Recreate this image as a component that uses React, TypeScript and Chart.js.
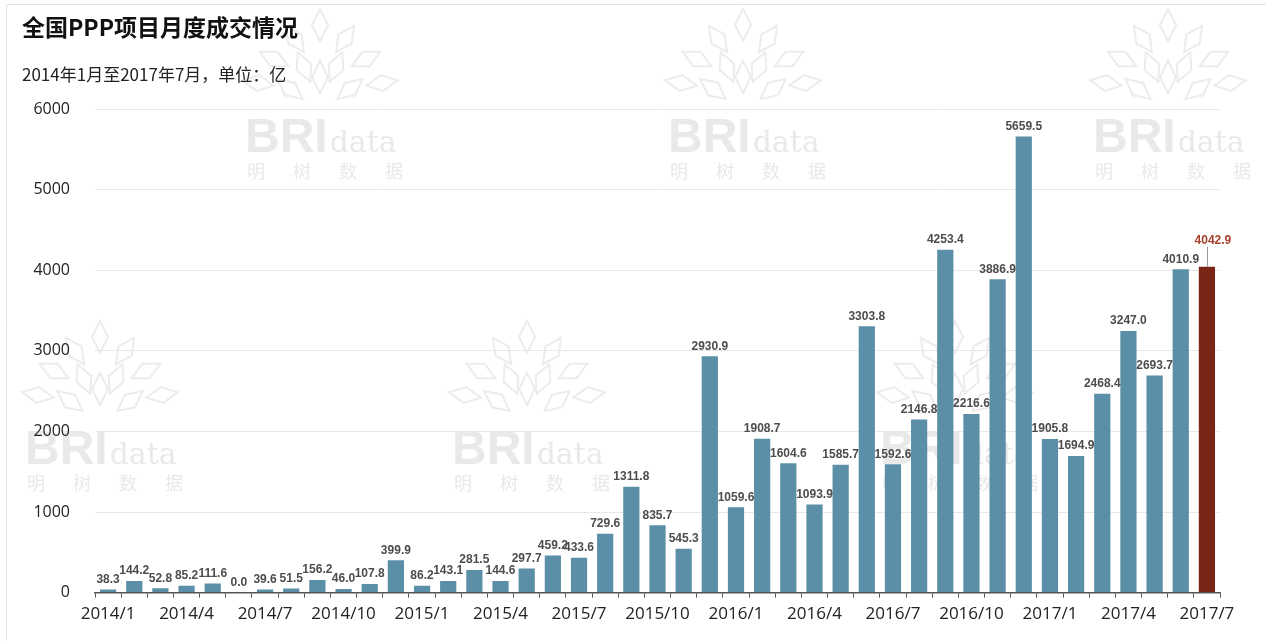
import React, { useEffect, useRef } from "react";
import { Chart, registerables } from "chart.js";

Chart.register(...registerables);

const months = [
  "2014/1", "2014/2", "2014/3", "2014/4", "2014/5", "2014/6", "2014/7", "2014/8", "2014/9", "2014/10", "2014/11", "2014/12",
  "2015/1", "2015/2", "2015/3", "2015/4", "2015/5", "2015/6", "2015/7", "2015/8", "2015/9", "2015/10", "2015/11", "2015/12",
  "2016/1", "2016/2", "2016/3", "2016/4", "2016/5", "2016/6", "2016/7", "2016/8", "2016/9", "2016/10", "2016/11", "2016/12",
  "2017/1", "2017/2", "2017/3", "2017/4", "2017/5", "2017/6", "2017/7",
];

const values = [
  38.3, 144.2, 52.8, 85.2, 111.6, 0.0, 39.6, 51.5, 156.2, 46.0, 107.8, 399.9,
  86.2, 143.1, 281.5, 144.6, 297.7, 459.2, 433.6, 729.6, 1311.8, 835.7, 545.3, 2930.9,
  1059.6, 1908.7, 1604.6, 1093.9, 1585.7, 3303.8, 1592.6, 2146.8, 4253.4, 2216.6, 3886.9, 5659.5,
  1905.8, 1694.9, 2468.4, 3247.0, 2693.7, 4010.9, 4042.9,
];

const shownTicks = [
  "2014/1", "2014/4", "2014/7", "2014/10", "2015/1", "2015/4", "2015/7", "2015/10",
  "2016/1", "2016/4", "2016/7", "2016/10", "2017/1", "2017/4", "2017/7",
];

const yTicks = [0, 1000, 2000, 3000, 4000, 5000, 6000];

const titleText = "全国PPP项目月度成交情况";
const subtitleText = "2014年1月至2017年7月，单位：亿";

const BLUE = "#5b8fa8";
const RED = "#7a2616";
const LABEL_GRAY = "#4d4d4d";
const LABEL_RED = "#a5432d";

const watermarkSpots = [
  [245, 152],
  [668, 152],
  [1093, 152],
  [25, 464],
  [452, 464],
  [880, 464],
];

const watermarkPlugin = {
  id: "watermark",
  beforeDraw(chart: any) {
    const ctx = chart.ctx;
    ctx.save();
    ctx.fillStyle = "#ffffff";
    ctx.fillRect(0, 0, chart.width, chart.height);
    ctx.strokeStyle = "#e2e2e2";
    ctx.lineWidth = 1;
    ctx.beginPath();
    ctx.moveTo(6.5, chart.height);
    ctx.lineTo(6.5, 4.5);
    ctx.lineTo(chart.width, 4.5);
    ctx.stroke();
    for (const [x, y] of watermarkSpots) {
      ctx.strokeStyle = "#ececec";
      ctx.lineWidth = 2;
      const cx = x + 75;
      const cy = y - 85;
      const leaves = [
        [0, -42, 0], [-25, -28, -0.6], [25, -28, 0.6], [-46, -8, -1.1], [46, -8, 1.1],
        [-16, 0, -0.4], [16, 0, 0.4], [-62, 16, -1.4], [62, 16, 1.4], [0, 10, 0],
        [-30, 22, -0.9], [30, 22, 0.9],
      ];
      for (const [dx, dy, rot] of leaves) {
        ctx.save();
        ctx.translate(cx + dx, cy + dy);
        ctx.rotate(rot);
        ctx.beginPath();
        ctx.moveTo(0, -16);
        ctx.lineTo(8, 0);
        ctx.lineTo(0, 16);
        ctx.lineTo(-8, 0);
        ctx.closePath();
        ctx.stroke();
        ctx.restore();
      }
      ctx.fillStyle = "#e9e9e9";
      ctx.textBaseline = "alphabetic";
      ctx.textAlign = "left";
      ctx.font = "bold 48px 'Liberation Sans', Arial, sans-serif";
      ctx.fillText("BRI", x, y);
      const w = ctx.measureText("BRI").width;
      ctx.font = "30px 'DejaVu Serif', serif";
      ctx.fillText("data", x + w + 2, y);
      ctx.font = "18px 'Noto Sans CJK SC', sans-serif";
      ctx.fillText("明", x + 2, y + 26);
      ctx.fillText("树", x + 48, y + 26);
      ctx.fillText("数", x + 94, y + 26);
      ctx.fillText("据", x + 140, y + 26);
    }
    ctx.restore();
  },
};

const labelPlugin = {
  id: "barLabels",
  afterDatasetsDraw(chart: any) {
    const ctx = chart.ctx;
    const meta = chart.getDatasetMeta(0);
    const data = chart.data.datasets[0].data as number[];
    ctx.save();
    ctx.textAlign = "center";
    ctx.textBaseline = "bottom";
    meta.data.forEach((bar: any, i: number) => {
      const isLast = i === data.length - 1;
      const text = data[i].toFixed(1);
      ctx.font = "bold 12px 'Liberation Sans', Arial, sans-serif";
      if (isLast) {
        ctx.strokeStyle = "#999999";
        ctx.lineWidth = 1;
        ctx.beginPath();
        ctx.moveTo(Math.round(bar.x) + 0.5, bar.y);
        ctx.lineTo(Math.round(bar.x) + 0.5, bar.y - 20);
        ctx.stroke();
        ctx.fillStyle = LABEL_RED;
        ctx.fillText(text, bar.x + 6, bar.y - 20);
      } else {
        ctx.fillStyle = LABEL_GRAY;
        ctx.fillText(text, bar.x, bar.y - 4);
      }
    });
    ctx.restore();
  },
};

export default function App() {
  const canvasRef = useRef<HTMLCanvasElement | null>(null);

  useEffect(() => {
    if (!canvasRef.current) return;
    const chart = new Chart(canvasRef.current, {
      type: "bar",
      data: {
        labels: months,
        datasets: [
          {
            data: values,
            backgroundColor: values.map((_, i) => (i === values.length - 1 ? RED : BLUE)),
            barPercentage: 0.62,
            categoryPercentage: 1,
          },
        ],
      },
      options: {
        responsive: false,
        animation: false,
        layout: { padding: { left: 22, right: 46, top: 0, bottom: 11 } },
        plugins: {
          legend: { display: false },
          tooltip: { enabled: false },
          title: {
            display: true,
            text: titleText,
            align: "start",
            color: "#111111",
            font: { size: 23, weight: "bold", family: "'Noto Sans CJK SC', sans-serif", lineHeight: 1.2 },
            padding: { top: 13, bottom: 24 },
          },
          subtitle: {
            display: true,
            text: subtitleText,
            align: "start",
            color: "#222222",
            font: { size: 17, family: "'Noto Sans CJK SC', sans-serif", lineHeight: 1.2 },
            padding: { top: 0, bottom: 24 },
          },
        },
        scales: {
          x: {
            offset: true,
            grid: {
              offset: true,
              drawOnChartArea: false,
              drawTicks: true,
              tickLength: 5,
              color: "#555555",
            },
            border: { display: true, color: "#555555", width: 1.5 },
            ticks: {
              autoSkip: false,
              maxRotation: 0,
              minRotation: 0,
              padding: 6,
              color: "#222222",
              font: { size: 17, family: "'Open Sans', 'Noto Sans', sans-serif" },
              callback: (_v: any, i: number) => (shownTicks.includes(months[i]) ? months[i] : ""),
            },
          },
          y: {
            min: 0,
            max: 6000,
            afterFit: (scale: any) => {
              scale.width = 73;
            },
            afterBuildTicks: (scale: any) => {
              scale.ticks = yTicks.map((v) => ({ value: v }));
            },
            grid: { color: "#e8e8e8", drawTicks: false, lineWidth: 1 },
            border: { display: false },
            ticks: {
              padding: 25,
              color: "#222222",
              font: { size: 16, family: "'Open Sans', 'Noto Sans', sans-serif" },
              callback: (v: any) => String(v),
            },
          },
        },
      },
      plugins: [watermarkPlugin, labelPlugin],
    } as any);
    return () => chart.destroy();
  }, []);

  return (
    <div style={{ position: "fixed", left: 0, top: 0, width: 1266, height: 641, background: "#fff" }}>
      <canvas ref={canvasRef} width={1266} height={641} style={{ display: "block" }} />
    </div>
  );
}
